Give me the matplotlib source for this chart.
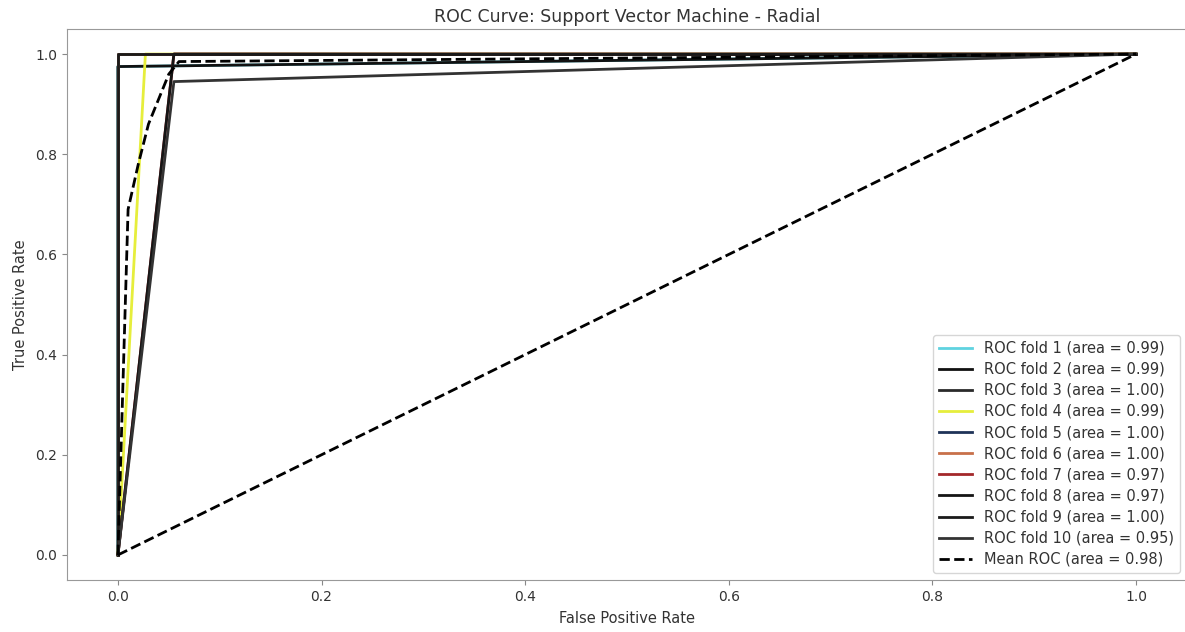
import matplotlib
import matplotlib.pyplot as plt

matplotlib.use('Agg')

# ROC points (fpr, tpr) for each of the 10 folds
fold_fpr = [
    [0.0, 0.0, 1.0],
    [0.0, 0.0, 1.0],
    [0.0, 0.0, 1.0],
    [0.0, 0.027, 1.0],
    [0.0, 0.0, 1.0],
    [0.0, 0.0, 1.0],
    [0.0, 0.055, 1.0],
    [0.0, 0.055, 1.0],
    [0.0, 0.0, 1.0],
    [0.0, 0.055, 1.0],
]
fold_tpr = [
    [0.0, 0.975, 1.0],
    [0.0, 0.975, 1.0],
    [0.0, 1.0, 1.0],
    [0.0, 1.0, 1.0],
    [0.0, 1.0, 1.0],
    [0.0, 1.0, 1.0],
    [0.0, 1.0, 1.0],
    [0.0, 1.0, 1.0],
    [0.0, 1.0, 1.0],
    [0.0, 0.945, 1.0],
]
fold_auc = [0.99, 0.99, 1.00, 0.99, 1.00, 1.00, 0.97, 0.97, 1.00, 0.95]
fold_colors = ["#5fd3e0", "#111111", "#2a2a2a", "#e6ee3c", "#1f3358",
               "#c8704a", "#a3282a", "#151515", "#1a1a1a", "#333333"]

mean_fpr = [0.0, 0.01, 0.02, 0.03, 0.04, 0.05, 0.06, 1.0]
mean_tpr = [0.0, 0.69, 0.78, 0.86, 0.91, 0.96, 0.985, 1.0]
mean_auc = 0.98

txt = "#333333"
fig = plt.figure(figsize=(11.85, 6.32), dpi=100)
ax = fig.add_axes([67 / 1185, 52 / 632, 1120 / 1185, 551 / 632])

for i in range(10):
    ax.plot(fold_fpr[i], fold_tpr[i], color=fold_colors[i], lw=2,
            label="ROC fold %d (area = %0.2f)" % (i + 1, fold_auc[i]))

ax.plot([0, 1], [0, 1], "k--", lw=2)
ax.plot(mean_fpr, mean_tpr, "k--", lw=2,
        label="Mean ROC (area = %0.2f)" % mean_auc)

ax.set_xlim(-0.05, 1.05)
ax.set_ylim(-0.05, 1.05)
ax.set_title("ROC Curve: Support Vector Machine - Radial", fontsize=12.5, color=txt, pad=5)
ax.set_xlabel("False Positive Rate", fontsize=10.5, color=txt, labelpad=5)
ax.set_ylabel("True Positive Rate", fontsize=10.5, color=txt, labelpad=5)
ax.tick_params(labelsize=10, colors="#888888", labelcolor=txt)
for s in ax.spines.values():
    s.set_color("#999999")

leg = ax.legend(loc="lower right", fontsize=10.5, labelspacing=0.42,
                handlelength=2.3, borderaxespad=0.5)
for t in leg.get_texts():
    t.set_color(txt)

plt.savefig("out.png", dpi=100)
plt.close()
